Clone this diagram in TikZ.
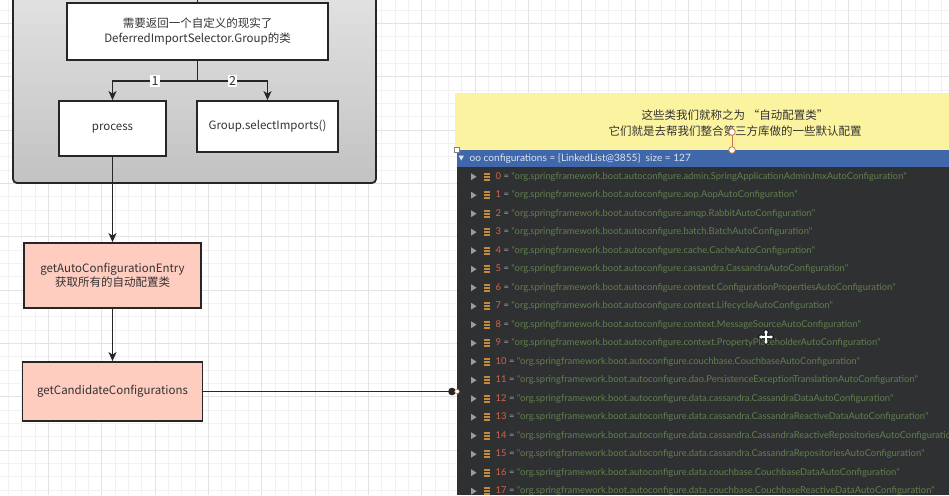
\documentclass[tikz,border=0pt]{standalone}
\usepackage{fontspec}
\setmainfont{Noto Sans CJK SC}
\newfontfamily\rowfont{Lato}
\usetikzlibrary{arrows.meta,calc}
\definecolor{gminor}{HTML}{F1F1F1}
\definecolor{gmajor}{HTML}{E3E3E3}
\definecolor{salmon}{HTML}{FFCCC0}
\definecolor{cborder}{HTML}{262626}
\definecolor{txt}{HTML}{333333}
\definecolor{gtop}{HTML}{E2E2E2}
\definecolor{gbot}{HTML}{C2C2C2}
\definecolor{notey}{HTML}{FBF3A0}
\definecolor{bar}{HTML}{3F67AA}
\definecolor{hdr}{HTML}{DCE4F2}
\definecolor{panel}{HTML}{2E3032}
\definecolor{idx}{HTML}{D0644C}
\definecolor{eqc}{HTML}{A0A4A8}
\definecolor{strc}{HTML}{62804F}
\definecolor{iconc}{HTML}{C48A3F}
\definecolor{tri}{HTML}{9A9DA0}
\definecolor{handle}{HTML}{C8784A}
\tikzset{
  boxbase/.style={draw=cborder, line width=1.8pt, align=center, text=txt,
    font=\fontsize{11.5}{15}\selectfont, inner sep=0pt},
  whitebox/.style={boxbase, fill=white},
  pinkbox/.style={boxbase, fill=salmon},
  conn/.style={draw=cborder, line width=1.8pt},
  arr/.style={conn, -{Stealth[length=9pt,width=8pt,inset=2.5pt]}},
  numlbl/.style={fill=white, inner sep=1.2pt, text=txt, font=\fontsize{12.5}{14}\selectfont},
  rowtxt/.style={anchor=west, inner sep=0pt, font=\rowfont\fontsize{9.4}{11}\selectfont},
}
\begin{document}
\begin{tikzpicture}[x=1pt,y=-1pt]
\useasboundingbox (0,0) rectangle (949,495);
\fill[white] (0,0) rectangle (949,495);
% grid
\foreach \k in {0,...,70} \draw[gminor, line width=0.8pt] ({8.333+13.333*\k},0) -- ++(0,495);
\foreach \k in {0,...,36} \draw[gminor, line width=0.8pt] (0,{10+13.333*\k}) -- ++(949,0);
\foreach \k in {0,...,16} \draw[gmajor, line width=0.9pt] ({48.33+53.333*\k},0) -- ++(0,495);
\foreach \k in {0,...,8} \draw[gmajor, line width=0.9pt] (0,{23.33+53.333*\k}) -- ++(949,0);
% container
\draw[cborder, line width=1.8pt, rounded corners=4pt, top color=gtop, bottom color=gbot] (13,-10) rectangle (376,183);
% nodes
\node[whitebox, minimum width=261pt, minimum height=57pt] (topbox) at (197.5,31.5)
  {需要返回一个自定义的现实了\\DeferredImportSelector.Group的类};
\node[whitebox, minimum width=107pt, minimum height=55pt] (process) at (112.5,128.5) {process};
\node[whitebox, minimum width=141pt, minimum height=51pt] (select) at (267.5,126.5) {Group.selectImports()};
\node[pinkbox, minimum width=177pt, minimum height=65pt, font=\fontsize{11.5}{14}\selectfont] (entry) at (112.5,275.5)
  {getAutoConfigurationEntry\\获取所有的自动配置类};
\node[pinkbox, minimum width=180pt, minimum height=59pt] (candidate) at (112.5,391.5) {getCandidateConfigurations};
\coordinate (topin) at (197.5,0);
\draw[conn] (topin) -- (topbox.north);
\draw[conn] (topbox.south) -- ++(0,20) coordinate (split);
\draw[arr] (split) -| node[pos=0.25, numlbl] (l1) {1} (process.north);
\draw[arr] (split) -| node[pos=0.25, numlbl] (l2) {2} (select.north);
\draw[arr] (process.south) -- (entry.north);
\draw[arr] (entry.south) -- (candidate.north);
% right screenshot
\node[fill=notey, minimum width=494pt, minimum height=57pt, inner sep=0pt, outer sep=0pt, anchor=north west] (note) at (455,93) {};
\node[align=center, text=txt, font=\fontsize{11.5}{16}\selectfont, inner sep=0pt] (notetext) at (735,123)
  {这些类我们就称之为 “自动配置类”\\它们就是去帮我们整合第三方库做的一些默认配置};
\fill[bar] (457,150) rectangle (949,167);
\node[fill=panel, minimum width=492pt, minimum height=328pt, inner sep=0pt, outer sep=0pt, anchor=north west] (shot) at (457,167) {};
\fill[hdr] (458.5,155.5) -- (464,155.5) -- (461.25,160.5) -- cycle;
\node[rowtxt, text=hdr, font=\rowfont\fontsize{10.1}{12}\selectfont] (hdrtext) at (469.5,158.5) {oo configurations = \{LinkedList@3855\}\ \ size = 127};
\begin{scope}
\clip (457,167) rectangle (949,495);
\foreach \i/\s in {0/admin.SpringApplicationAdminJmxAutoConfiguration,
  1/aop.AopAutoConfiguration, 2/amqp.RabbitAutoConfiguration,
  3/batch.BatchAutoConfiguration, 4/cache.CacheAutoConfiguration,
  5/cassandra.CassandraAutoConfiguration,
  6/context.ConfigurationPropertiesAutoConfiguration,
  7/context.LifecycleAutoConfiguration, 8/context.MessageSourceAutoConfiguration,
  9/context.PropertyPlaceholderAutoConfiguration,
  10/couchbase.CouchbaseAutoConfiguration,
  11/dao.PersistenceExceptionTranslationAutoConfiguration,
  12/data.cassandra.CassandraDataAutoConfiguration,
  13/data.cassandra.CassandraReactiveDataAutoConfiguration,
  14/data.cassandra.CassandraReactiveRepositoriesAutoConfiguration,
  15/data.cassandra.CassandraRepositoriesAutoConfiguration,
  16/data.couchbase.CouchbaseDataAutoConfiguration,
  17/data.couchbase.CouchbaseReactiveDataAutoConfiguration}{
  \pgfmathsetmacro\yy{176.7+18.5*\i}
  \fill[tri] (471,\yy-3.5) -- (476.5,\yy) -- (471,\yy+3.5) -- cycle;
  \foreach \b in {-4,-1,2} \fill[iconc] (484,\yy+\b) rectangle (490,\yy+\b+2);
  \node[rowtxt] (r\i) at (495.5,\yy) {\textcolor{idx}{\i}\textcolor{eqc}{\ =\ }\textcolor{strc}{\char34 org.springframework.boot.autoconfigure.\s\char34}};
}
\end{scope}
% connector to screenshot
\coordinate (dot) at ($(candidate.east -| shot.west)+(-5,0)$);
\draw[conn] (candidate.east) -- (dot);
\fill[cborder] (dot) circle (3.8pt);
\draw[draw=handle, fill=white, line width=0.6pt] ($(dot)+(5,0)$) circle (2.3pt);
% selection handles
\draw[handle, line width=0.8pt] (732,132) -- (732,150);
\draw[draw=handle, fill=white, line width=0.8pt] (732,132) circle (3.3pt);
\draw[draw=handle, fill=white, line width=0.8pt] (732,150) circle (3.3pt);
\draw[draw=gray, fill=white, line width=0.6pt] (454.5,147.5) rectangle (459.5,152.5);
% cursor
\draw[black, line width=2.6pt, {Triangle[length=3.5pt,width=6pt]}-{Triangle[length=3.5pt,width=6pt]}] (758,337) -- (774,337);
\draw[black, line width=2.6pt, {Triangle[length=3.5pt,width=6pt]}-{Triangle[length=3.5pt,width=6pt]}] (766,329) -- (766,345);
\draw[white, line width=1.2pt, {Triangle[length=2.5pt,width=4pt]}-{Triangle[length=2.5pt,width=4pt]}] (759,337) -- (773,337);
\draw[white, line width=1.2pt, {Triangle[length=2.5pt,width=4pt]}-{Triangle[length=2.5pt,width=4pt]}] (766,330) -- (766,344);
\end{tikzpicture}
\end{document}
